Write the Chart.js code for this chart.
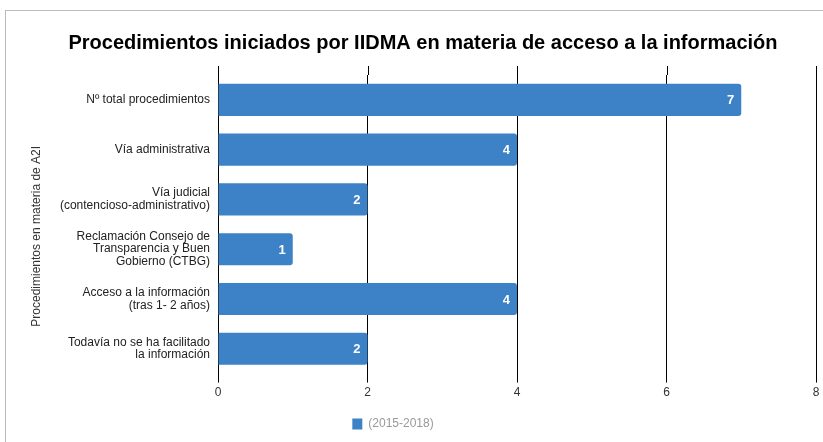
<!DOCTYPE html>
<html>
<head>
<meta charset="utf-8">
<script src="https://cdn.jsdelivr.net/npm/chart.js@4"></script>
<style>
  body { margin: 0; background: #fff; }
  #frame {
    position: absolute; left: 5px; top: 10px;
    width: 818px; height: 432px;
    border-left: 1px solid #bbb; border-top: 1px solid #bbb;
  }
</style>
</head>
<body>
<div id="frame"><canvas id="chart" width="817" height="431"></canvas></div>
<script>
// Procedimientos A2I
const categories = [
    ['Nº total procedimientos'],
    ['Vía administrativa'],
    ['Vía judicial', '(contencioso-administrativo)'],
    ['Reclamación Consejo de', 'Transparencia y Buen', 'Gobierno (CTBG)'],
    ['Acceso a la información', '(tras 1- 2 años)'],
    ['Todavía no se ha facilitado', 'la información']
];
const values = [7, 4, 2, 1, 4, 2];
const xTicks = [0, 2, 4, 6, 8];
const yTitle = 'Procedimientos en materia de A2I';

const barColor = '#3d82c6';
const font = '"Liberation Sans", Arial, sans-serif';

// etiquetas blancas dentro de cada barra
const barLabels = {
    id: 'barLabels',
    afterDatasetsDraw(chart) {
        const ctx = chart.ctx;
        const meta = chart.getDatasetMeta(0);
        ctx.save();
        ctx.fillStyle = '#fff';
        ctx.font = 'bold 13px ' + font;
        ctx.textAlign = 'right';
        ctx.textBaseline = 'middle';
        meta.data.forEach((bar, i) => {
            ctx.fillText(values[i], bar.x - 7, bar.y + 1);
        });
        ctx.restore();
    }
};

// las lineas verticales suben un poco por encima del area + titulo eje Y
const extras = {
    id: 'extras',
    beforeDatasetsDraw(chart) {
        const ctx = chart.ctx;
        const x = chart.scales.x;
        const area = chart.chartArea;
        ctx.save();
        ctx.strokeStyle = '#000';
        ctx.lineWidth = 1;
        xTicks.forEach(v => {
            const px = Math.round(x.getPixelForValue(v)) + 0.5;
            ctx.beginPath();
            ctx.moveTo(px, area.top - 9);
            ctx.lineTo(px, area.top);
            ctx.stroke();
        });
        // titulo vertical, algo desplazado hacia abajo como en el original
        ctx.translate(31, (area.top + area.bottom) / 2 + 12);
        ctx.rotate(-Math.PI / 2);
        ctx.fillStyle = '#333';
        ctx.font = '12px ' + font;
        ctx.textAlign = 'center';
        ctx.textBaseline = 'middle';
        ctx.fillText(yTitle, 0, 0);
        ctx.restore();
    },
    afterLayout(chart) {
        // leyenda algo a la izquierda, como en el original
        chart.legend.left -= 30;
        chart.legend.right -= 30;
    }
};

const ctx = document.getElementById('chart').getContext('2d');
new Chart(ctx, {
    type: 'bar',
    data: {
        labels: categories,
        datasets: [{
            label: '(2015-2018)',
            data: values,
            backgroundColor: barColor,
            borderRadius: 3,
            borderSkipped: 'start',
            categoryPercentage: 0.645,
            barPercentage: 1
        }]
    },
    options: {
        indexAxis: 'y',
        responsive: false,
        animation: false,
        layout: { padding: { left: 24, right: 7, top: 0, bottom: 2 } },
        plugins: {
            title: {
                display: true,
                text: 'Procedimientos iniciados por IIDMA en materia de acceso a la información',
                color: '#000',
                font: { family: font, size: 20, weight: 'bold' },
                padding: { top: 20, bottom: 20 }
            },
            legend: {
                position: 'bottom',
                labels: {
                    color: '#999',
                    font: { family: font, size: 12 },
                    boxWidth: 10,
                    boxHeight: 11,
                    padding: 15
                }
            },
            tooltip: { enabled: false }
        },
        scales: {
            x: {
                min: 0,
                max: 8,
                afterBuildTicks(axis) {
                    axis.ticks = xTicks.map(v => ({ value: v }));
                },
                grid: { color: '#000', lineWidth: 1, tickLength: 9, tickColor: '#000' },
                border: { display: false },
                ticks: {
                    color: '#333',
                    padding: 3,
                    font: { family: font, size: 12 }
                }
            },
            y: {
                afterFit(axis) {
                    // deja sitio para el titulo vertical
                    axis.width = 188;
                },
                grid: { display: false },
                border: { display: false },
                ticks: {
                    color: '#222',
                    padding: 0,
                    font: { family: font, size: 12, lineHeight: 1.05 }
                }
            }
        }
    },
    plugins: [barLabels, extras]
});
</script>
</body>
</html>
